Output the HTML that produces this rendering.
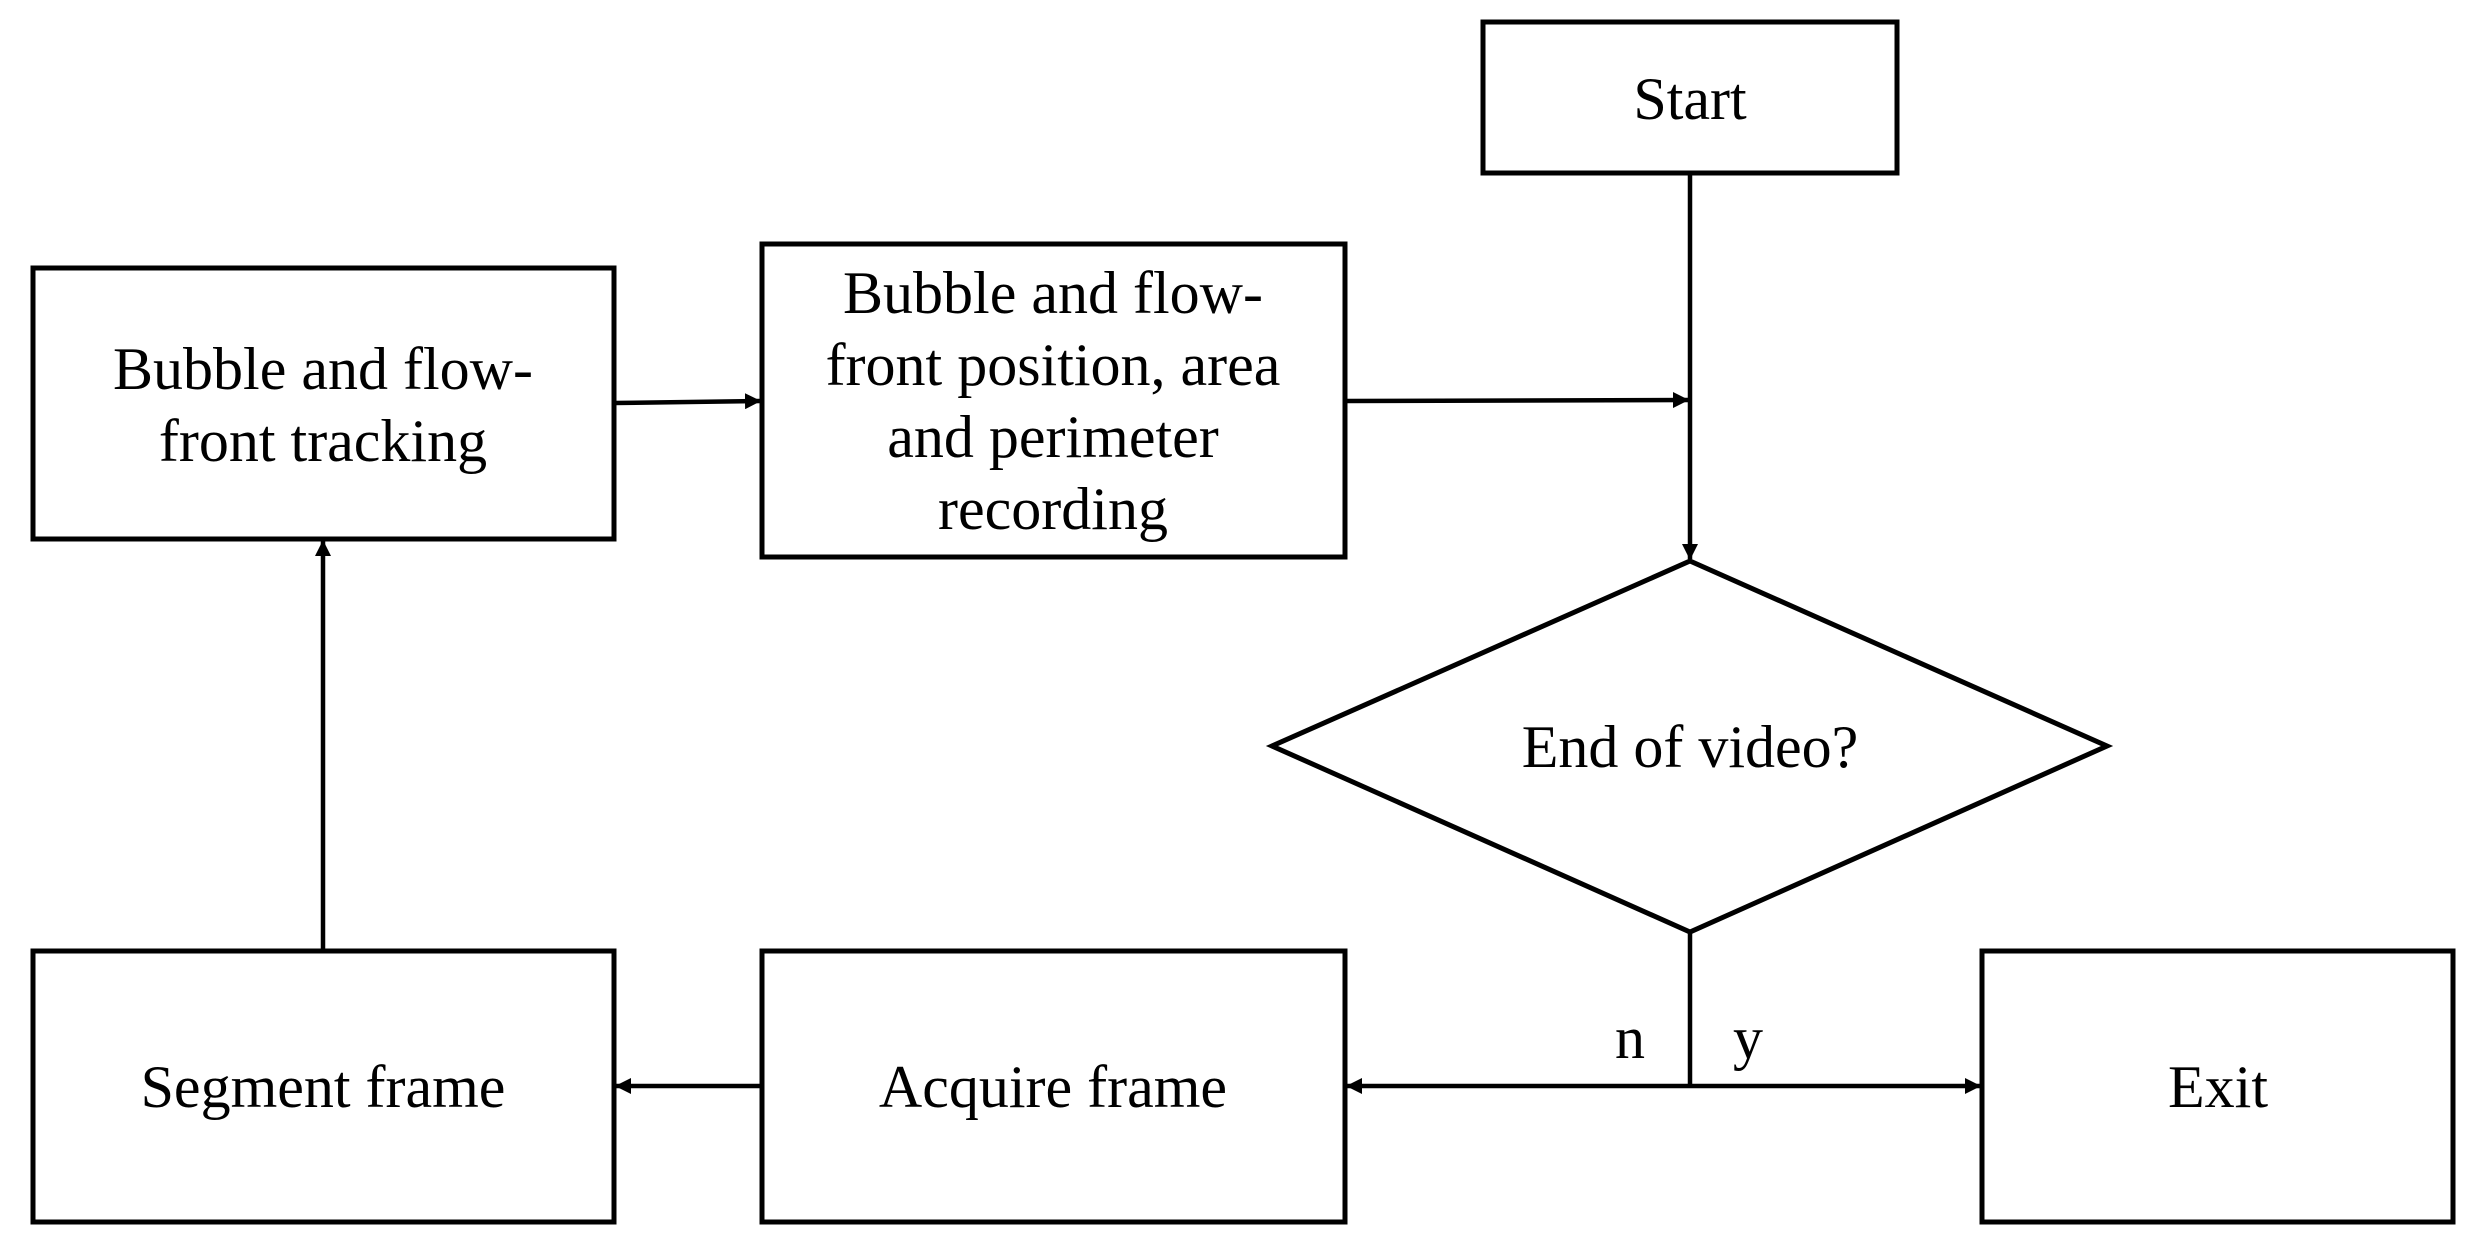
<!DOCTYPE html>
<html><head><style>
html,body{margin:0;padding:0;background:#fff;}
svg{display:block;}
text{font-family:"Liberation Serif",serif;font-size:60px;fill:#000;text-anchor:middle;}
</style></head><body>
<svg width="2469" height="1253" viewBox="0 0 2469 1253" xmlns="http://www.w3.org/2000/svg">
<defs>
<marker id="b" markerWidth="16" markerHeight="16" refX="15" refY="8" orient="auto" markerUnits="userSpaceOnUse" viewBox="0 0 16 16"><path d="M0,0 L16,8 L0,16 z" fill="#000"/></marker></defs>
<g fill="none" stroke="#000" stroke-width="5">
<rect x="1483" y="22" width="414" height="151"/>
<rect x="33" y="268" width="581" height="271"/>
<rect x="762" y="244" width="583" height="313"/>
<polygon points="1690,561 2107,746 1690,932 1272,746"/>
<rect x="33" y="951" width="581" height="271"/>
<rect x="762" y="951" width="583" height="271"/>
<rect x="1982" y="951" width="471" height="271"/>
</g>
<g stroke="#000" stroke-width="4.5" fill="none">
<line x1="614" y1="403" x2="760" y2="401" marker-end="url(#b)"/>
<line x1="1345" y1="401" x2="1688" y2="400" marker-end="url(#b)"/>
<line x1="1690" y1="173" x2="1690" y2="559" marker-end="url(#b)"/>
<line x1="1690" y1="932" x2="1690" y2="1086"/>
<line x1="1690" y1="1086" x2="1347" y2="1086" marker-end="url(#b)"/>
<line x1="1690" y1="1086" x2="1980" y2="1086" marker-end="url(#b)"/>
<line x1="762" y1="1086" x2="616" y2="1086" marker-end="url(#b)"/>
<line x1="323" y1="951" x2="323" y2="541" marker-end="url(#b)"/>
</g>
<text x="1690" y="119">Start</text>
<text x="323" y="389">Bubble and flow-</text>
<text x="323" y="461">front tracking</text>
<text x="1053" y="313">Bubble and flow-</text>
<text x="1053" y="385">front position, area</text>
<text x="1053" y="457">and perimeter</text>
<text x="1053" y="529">recording</text>
<text x="1690" y="767">End of video?</text>
<text x="323" y="1107">Segment frame</text>
<text x="1053" y="1107">Acquire frame</text>
<text x="2218" y="1107">Exit</text>
<text x="1630" y="1058">n</text>
<text x="1748" y="1058">y</text>
</svg>
</body></html>
